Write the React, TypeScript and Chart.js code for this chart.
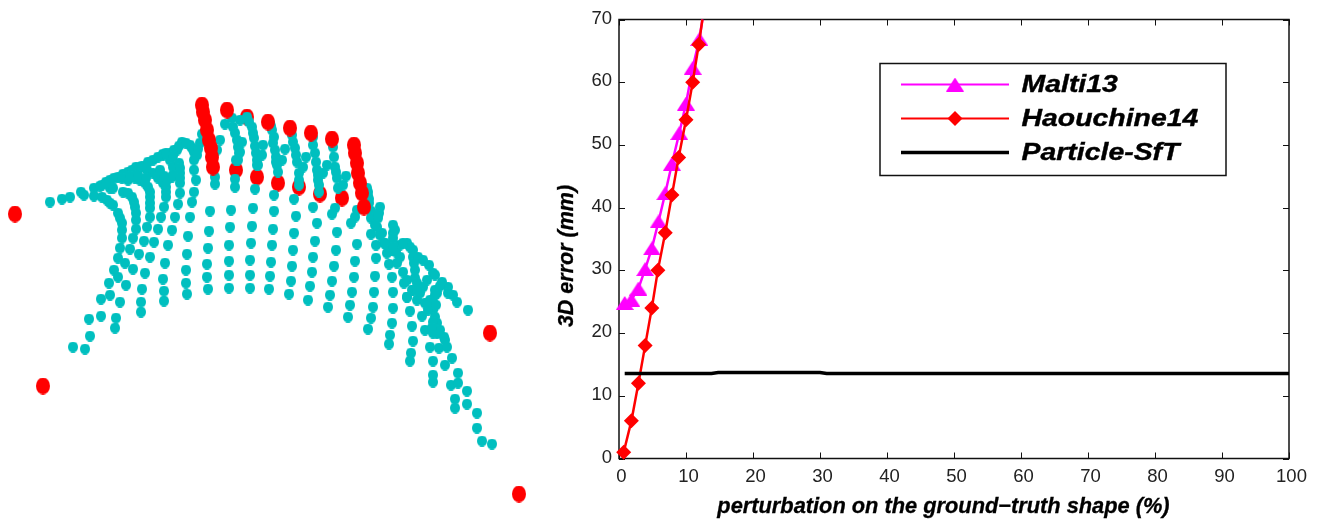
import React, { useEffect, useRef } from "react";
import { Chart, registerables } from "chart.js";
import { drawPoint } from "chart.js/helpers";

Chart.register(...registerables);

// ---- left panel: projected point cloud
const tealPoints: [number, number][] = [
  [50,202],[62,199],[70,197],[81,192],[84,195],[94,188],[94,196],[102,185],[102,197],[110,180],[110,188],[118,177],[113,188],
  [107,200],[110,203],[113,205],[118,213],[120,218],[122,223],[122,230],[122,238],[120,248],[118,258],[114,270],[109,283],[101,299],[89,319],[73,347],
  [123,192],[128,193],[132,197],[134,202],[135,207],[136,213],[136,220],[136,229],[133,238],[130,249],[125,263],[118,277],[110,295],[101,316],[90,336],[85,349],
  [128,180],[135,178],[140,180],[145,183],[148,187],[150,192],[150,197],[150,203],[150,208],[150,217],[147,227],[144,241],[139,254],[133,269],[126,285],[120,302],[116,318],[115,328],
  [128,172],[140,167],[147,170],[153,173],[158,178],[163,183],[166,187],[166,192],[166,197],[164,207],[161,217],[158,229],[154,242],[150,257],[145,273],[142,289],[141,302],[141,312],
  [136,167],[153,160],[163,155],[170,160],[173,167],[179,163],[180,173],[172,177],[167,180],[180,183],[180,193],[178,204],[175,217],[172,230],[168,245],[165,263],[163,279],[164,291],[164,301],
  [163,154],[170,153],[177,150],[182,142],[190,145],[194,152],[194,160],[194,170],[196,180],[194,192],[192,202],[190,217],[188,236],[187,254],[186,270],[186,283],[187,294],[200,143],[202,134],[197,155],
  [220,140],[217,150],[213,160],[215,177],[215,184],[210,211],[209,231],[208,248],[207,264],[207,277],[208,289],
  [225,124],[232,118],[233,127],[235,133],[237,140],[238,147],[239,153],[238,160],[235,179],[235,187],[231,210],[230,227],[229,245],[229,261],[229,275],[229,288],[242,142],[240,152],[236,160],
  [247,117],[252,127],[253,133],[254,138],[255,146],[256,153],[257,160],[257,165],[255,189],[253,208],[252,226],[251,243],[250,260],[250,275],[250,288],[263,145],[262,155],[258,165],
  [270,123],[272,130],[273,143],[275,150],[276,157],[277,165],[278,172],[282,160],[285,149],[274,195],[274,211],[273,229],[272,245],[271,262],[270,276],[269,289],
  [292,135],[293,142],[295,148],[296,155],[297,162],[299,173],[299,180],[299,185],[303,167],[306,157],[294,199],[296,216],[294,233],[293,250],[292,266],[291,281],[289,294],
  [313,137],[313,145],[315,153],[316,162],[317,170],[318,180],[319,192],[323,173],[327,165],[313,207],[317,223],[315,241],[313,257],[312,272],[310,286],[308,300],
  [333,147],[334,157],[335,167],[337,178],[338,188],[343,185],[346,176],[335,208],[332,214],[337,232],[336,250],[334,266],[332,281],[330,295],[328,307],
  [357,210],[355,217],[351,223],[357,244],[355,261],[354,277],[352,292],[350,305],[348,317],
  [367,188],[368,196],[369,203],[371,211],[371,218],[371,234],[376,245],[376,258],[375,276],[374,292],[373,307],[371,318],[368,329],
  [380,207],[379,213],[378,218],[377,227],[382,233],[384,243],[387,253],[389,264],[392,277],[393,292],[393,308],[392,323],[390,335],[389,344],
  [393,225],[393,233],[393,243],[393,250],[400,257],[397,263],[403,272],[404,283],[407,297],[410,311],[412,326],[413,341],[411,353],[410,361],
  [407,243],[410,247],[413,257],[414,263],[415,270],[415,278],[413,290],[417,300],[422,316],[425,330],[430,347],[433,361],[433,375],[433,382],[400,245],[403,243],
  [418,257],[423,260],[429,265],[433,273],[427,280],[423,287],[420,293],[412,290],[407,297],[430,300],[433,310],[435,317],[437,323],[437,333],[439,348],[445,365],[451,385],[455,399],[455,408],
  [442,282],[448,287],[437,293],[435,290],[433,302],[444,337],[447,347],[452,358],[458,373],[458,383],[467,391],[467,404],[477,413],[477,428],[482,441],[492,444],
  [453,295],[457,302],[468,310],[438,332],[433,333],
  // dense bands where neighbouring dots merge
  [100,186],[106,182],[114,178],[123,174],[132,170],[142,166],[148,162],[158,157],[166,153],[174,150],[179,146],
  [122,178],[130,176],[138,175],[146,178],[173,156],[173,175],[186,143],[192,148],[198,149],[180,178],[180,168],[160,170],[164,176],
  [271,126],[274,137],[276,162],[240,120],[249,122],[319,185],[318,175],[336,172],[368,192],[369,199],
  [378,215],[375,225],[380,235],[385,243],[390,250],[396,252],[407,280],[417,290],[425,303],[428,310],[433,322],[440,330],[435,295],[436,305],
  [395,230],[393,238],[393,247],[413,250],[417,283],[435,275],[427,303],[432,328],[445,340],[448,293],[440,286],
];
const redBackPoints: [number, number][] = [
  [15,214],[43,386],[490,333],[519,494],[247,117],[236,170],[257,177],[278,183],[299,187],[320,194],[342,198],
];
const redFrontPoints: [number, number][] = [
  [202,105],[203,112],[205,120],[207,130],[209,140],[211,148],[212,157],[213,167],
  [354,145],[355,153],[357,163],[358,173],[360,183],[362,193],[364,207],
  [227,110],[268,122],[290,128],[311,133],[332,139],
];

// ---- right panel: error curves
const maltiX = [0.85, 1.85, 2.9, 3.9, 4.9, 5.9, 6.9, 7.9, 9, 10, 11, 12, 12.45];
const maltiY = [24.8, 25.3, 27.1, 30.2, 33.5, 37.8, 42.3, 47, 51.9, 56.6, 62.3, 66.9, 70];
const haouchineX = [0.7, 1.85, 2.9, 3.9, 4.9, 5.8, 6.9, 7.9, 8.9, 10, 11, 11.9, 12.45];
const haouchineY = [1, 6, 12, 18, 24, 30, 36, 42, 48, 54, 60, 66, 70];
const particleX = [0.85, 13.8, 14.8, 30, 31, 100];
const particleY = [13.55, 13.55, 13.7, 13.7, 13.55, 13.55];
const xTicksValues = [0, 10, 20, 30, 40, 50, 60, 70, 80, 90, 100];
const yTicksValues = [0, 10, 20, 30, 40, 50, 60, 70];
const seriesNames = ["Malti13", "Haouchine14", "Particle-SfT"];
const xAxisTitle = "perturbation on the ground\u2212truth shape (%)";
const yAxisTitle = "3D error (mm)";

const TEAL = "#00bfbf";
const RED = "#ff0000";
const MAGENTA = "#ff00ff";
const INK = "#111111";
const SANS = '"Liberation Sans", Arial, sans-serif';

function ellipseSprite(color: string, w: number, h: number) {
  const c = document.createElement("canvas");
  c.width = w;
  c.height = h;
  const g = c.getContext("2d")!;
  g.fillStyle = color;
  g.beginPath();
  g.ellipse(w / 2, h / 2, w / 2, h / 2, 0, 0, Math.PI * 2);
  g.fill();
  return c;
}

function triangleSprite(color: string, w: number, h: number) {
  const c = document.createElement("canvas");
  c.width = w;
  c.height = h;
  const g = c.getContext("2d")!;
  g.fillStyle = color;
  g.beginPath();
  g.moveTo(w / 2, 0);
  g.lineTo(w, h);
  g.lineTo(0, h);
  g.closePath();
  g.fill();
  return c;
}

const toXY = (pts: [number, number][]) => pts.map(([x, y]) => ({ x, y }));
const zip = (xs: number[], ys: number[]) => xs.map((x, i) => ({ x, y: ys[i] }));

function makeFramePlugin(triangle: HTMLCanvasElement) {
  return {
    id: "frameAndTitles",
    beforeDatasetsDraw(chart: any) {
      const { ctx, chartArea: a, scales } = chart;
      ctx.save();
      ctx.strokeStyle = INK;
      ctx.lineWidth = 1;
      ctx.beginPath();
      for (const t of scales.x.ticks) {
        const px = Math.round(scales.x.getPixelForValue(t.value)) + 0.5;
        ctx.moveTo(px, a.bottom);
        ctx.lineTo(px, a.bottom - 6);
        ctx.moveTo(px, a.top);
        ctx.lineTo(px, a.top + 6);
      }
      for (const t of scales.y.ticks) {
        const py = Math.round(scales.y.getPixelForValue(t.value)) + 0.5;
        ctx.moveTo(a.left, py);
        ctx.lineTo(a.left + 6, py);
        ctx.moveTo(a.right, py);
        ctx.lineTo(a.right - 6, py);
      }
      ctx.stroke();
      ctx.lineWidth = 1.5;
      ctx.strokeRect(a.left, a.top, a.right - a.left, a.bottom - a.top);
      ctx.restore();
    },
    afterDatasetsDraw(chart: any) {
      const { ctx } = chart;
      ctx.save();
      ctx.fillStyle = "#000000";
      ctx.strokeStyle = "#000000";
      ctx.lineWidth = 0.3;
      ctx.textBaseline = "middle";
      ctx.textAlign = "center";
      ctx.font = `italic bold 21.8px ${SANS}`;
      ctx.fillText(xAxisTitle, 403.5, 507);
      ctx.strokeText(xAxisTitle, 403.5, 507);
      ctx.translate(27.5, 256);
      ctx.rotate(-Math.PI / 2);
      ctx.font = `italic bold 21.5px ${SANS}`;
      ctx.fillText(yAxisTitle, 0, 0);
      ctx.strokeText(yAxisTitle, 0, 0);
      ctx.restore();

      // legend box
      ctx.save();
      ctx.strokeStyle = INK;
      ctx.lineWidth = 1.5;
      ctx.fillStyle = "#ffffff";
      ctx.fillRect(340, 63.5, 346, 112);
      ctx.strokeRect(340, 63.5, 346, 112);
      const rows: any[] = [
        { y: 84.5, color: MAGENTA, width: 2, style: triangle, radius: 9 },
        { y: 118.5, color: RED, width: 2, style: "rectRot", radius: 7.5 },
        { y: 152.5, color: "#000000", width: 3.5, style: false, radius: 0 },
      ];
      rows.forEach((r, i) => {
        ctx.strokeStyle = r.color;
        ctx.lineWidth = r.width;
        ctx.beginPath();
        ctx.moveTo(361, r.y);
        ctx.lineTo(469, r.y);
        ctx.stroke();
        if (r.style) {
          ctx.fillStyle = r.color;
          ctx.strokeStyle = r.color;
          ctx.lineWidth = 0;
          drawPoint(ctx, { pointStyle: r.style, radius: r.radius, rotation: 0, borderWidth: 0 }, 415, r.y);
        }
        ctx.save();
        ctx.translate(481.5, r.y + 1);
        ctx.scale(1.16, 1);
        ctx.fillStyle = "#000000";
        ctx.strokeStyle = "#000000";
        ctx.lineWidth = 0.4;
        ctx.textAlign = "left";
        ctx.textBaseline = "middle";
        ctx.font = `italic bold 24.5px ${SANS}`;
        ctx.fillText(seriesNames[i], 0, 0);
        ctx.strokeText(seriesNames[i], 0, 0);
        ctx.restore();
      });
      ctx.restore();
    },
  };
}

export default function App() {
  const leftRef = useRef<HTMLCanvasElement>(null);
  const rightRef = useRef<HTMLCanvasElement>(null);

  useEffect(() => {
    const tealSprite = ellipseSprite(TEAL, 10, 11);
    const redSprite = ellipseSprite(RED, 14, 17);
    const triSprite = triangleSprite(MAGENTA, 18, 14);
    const dot = (data: any[], sprite: HTMLCanvasElement, order: number, color: string) => ({
      data,
      order,
      showLine: false,
      clip: false,
      pointStyle: sprite,
      pointRadius: 5,
      backgroundColor: color,
      borderColor: color,
    });
    const left = new Chart(leftRef.current!, {
      type: "scatter",
      data: {
        datasets: [
          dot(toXY(redFrontPoints), redSprite, 1, RED),
          dot(toXY(tealPoints), tealSprite, 2, TEAL),
          dot(toXY(redBackPoints), redSprite, 3, RED),
        ],
      },
      options: {
        responsive: false,
        animation: false,
        events: [],
        layout: { padding: 0, autoPadding: false },
        plugins: { legend: { display: false }, tooltip: { enabled: false } },
        scales: {
          x: { type: "linear", display: false, min: 0, max: 540 },
          y: { type: "linear", display: false, min: 0, max: 519, reverse: true },
        },
      },
    } as any);

    const lineSet = (label: string, data: any[], color: string, style: any, radius: number, width: number, order: number) => ({
      label,
      data,
      order,
      showLine: true,
      clip: false,
      borderColor: color,
      backgroundColor: color,
      borderWidth: width,
      tension: 0,
      pointStyle: style,
      pointBorderWidth: 0,
      pointRadius: data.map((_: any, i: number) => (i === data.length - 1 ? 0 : radius)),
    });
    const right = new Chart(rightRef.current!, {
      type: "scatter",
      data: {
        datasets: [
          lineSet(seriesNames[0], zip(maltiX, maltiY), MAGENTA, triSprite, 9, 2.5, 3),
          lineSet(seriesNames[1], zip(haouchineX, haouchineY), RED, "rectRot", 7.5, 2.5, 2),
          lineSet(seriesNames[2], zip(particleX, particleY), "#000000", "circle", 0, 3.5, 1),
        ],
      },
      options: {
        responsive: false,
        animation: false,
        events: [],
        layout: { padding: { left: 0, top: 19.5, right: 32, bottom: 0 }, autoPadding: false },
        plugins: { legend: { display: false }, tooltip: { enabled: false } },
        scales: {
          x: {
            type: "linear",
            min: 0,
            max: 100,
            afterBuildTicks: (s: any) => { s.ticks = xTicksValues.map((value) => ({ value })); },
            afterFit: (s: any) => { s.height = 60.5; },
            grid: { display: false, drawTicks: false },
            border: { display: false },
            ticks: { color: "#222222", font: { family: SANS, size: 18.5 }, padding: 7, labelOffset: 2.5, maxRotation: 0, autoSkip: false },
          },
          y: {
            type: "linear",
            min: 0,
            max: 70,
            afterBuildTicks: (s: any) => { s.ticks = yTicksValues.map((value) => ({ value })); },
            afterFit: (s: any) => { s.width = 79; },
            grid: { display: false, drawTicks: false },
            border: { display: false },
            ticks: { color: "#222222", font: { family: SANS, size: 18.5 }, padding: 7, labelOffset: -1, autoSkip: false },
          },
        },
      },
      plugins: [makeFramePlugin(triSprite)],
    } as any);

    return () => {
      left.destroy();
      right.destroy();
    };
  }, []);

  return (
    <div style={{ position: "absolute", left: 0, top: 0, width: 1321, height: 519, overflow: "hidden", background: "#fff" }}>
      <canvas ref={leftRef} width={540} height={519} style={{ position: "absolute", left: 0, top: 0, width: 540, height: 519 }} />
      <canvas ref={rightRef} width={781} height={519} style={{ position: "absolute", left: 540, top: 0, width: 781, height: 519 }} />
    </div>
  );
}
